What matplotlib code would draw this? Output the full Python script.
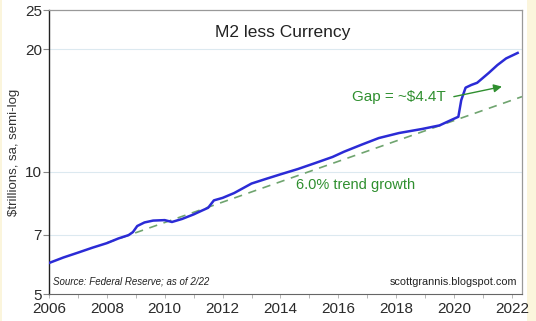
import numpy as np
import matplotlib
matplotlib.use("Agg")
import matplotlib.pyplot as plt
from matplotlib.patches import Rectangle

# M2 less currency, $ trillions
years = [2006.0, 2006.5, 2007.0, 2007.5, 2008.0, 2008.4, 2008.75, 2008.9, 2009.05,
         2009.3, 2009.6, 2010.0, 2010.25, 2010.6, 2011.0, 2011.25, 2011.5, 2011.7,
         2012.0, 2012.4, 2013.0, 2013.5, 2014.0, 2014.6, 2015.2, 2015.8, 2016.2,
         2016.8, 2017.4, 2018.1, 2018.9, 2019.5, 2019.9, 2020.15, 2020.25, 2020.4,
         2020.6, 2020.8, 2021.2, 2021.5, 2021.8, 2022.2]
m2 = [5.96, 6.15, 6.32, 6.5, 6.67, 6.85, 6.98, 7.1, 7.35,
      7.5, 7.58, 7.6, 7.52, 7.65, 7.85, 8.0, 8.15, 8.5,
      8.62, 8.86, 9.35, 9.6, 9.85, 10.15, 10.5, 10.87, 11.2,
      11.65, 12.1, 12.45, 12.74, 13.0, 13.4, 13.65, 15.0, 16.1,
      16.35, 16.55, 17.5, 18.3, 19.0, 19.6]

# 6% trend line end points
trend_years = [2008.0, 2022.35]
trend_vals = [6.68, 15.3]

yticks = [5, 7, 10, 20, 25]
xticks = list(range(2006, 2023, 2))

green = "#2f8f2f"
fnt = "Liberation Sans"

fig = plt.figure(figsize=(5.36, 3.21), dpi=100)
fig.patch.set_facecolor("white")
fig.patches.append(Rectangle((527 / 536, 0), 9 / 536, 1, transform=fig.transFigure,
                             facecolor="#fbf5dc", edgecolor="none", zorder=-1))
fig.patches.append(Rectangle((0, 0), 2 / 536, 1, transform=fig.transFigure,
                             facecolor="#fbf5dc", edgecolor="none", zorder=-1))
ax = fig.add_axes([49 / 536, 1 - 294 / 321, 473 / 536, 284 / 321])

ax.plot(trend_years, trend_vals, color="#6fa46f", lw=1.2, ls=(0, (5, 4)), zorder=2)
ax.plot(years, m2, color="#2b2bd6", lw=1.8, zorder=3)

ax.set_yscale("log")
ax.set_ylim(5, 25)
ax.set_xlim(2006, 2022.35)
ax.set_yticks(yticks)
ax.set_yticklabels([str(t) for t in yticks], fontsize=11, family=fnt, color="#2a2a2a")
ax.yaxis.set_minor_locator(matplotlib.ticker.NullLocator())
ax.set_xticks(xticks)
ax.set_xticklabels([str(t) for t in xticks], fontsize=11, family=fnt, color="#2a2a2a")
ax.set_xticks(range(2006, 2023), minor=True)
ax.tick_params(axis="y", length=4, width=0.8, color="#888888", pad=1)
ax.tick_params(axis="x", which="both", length=3, width=0.6, color="#aaaaaa", pad=3)

for v in [7, 10, 20]:
    ax.axhline(v, color="#dce9f0", lw=0.8, zorder=1)

ax.spines["left"].set_color("#222222")
ax.spines["left"].set_linewidth(1.0)
ax.spines["bottom"].set_color("#666666")
for s in ["top", "right"]:
    ax.spines[s].set_color("#999999")
    ax.spines[s].set_linewidth(0.9)

ax.set_ylabel("$trillions, sa, semi-log", fontsize=9.5, family=fnt, color="#333333")
ax.yaxis.set_label_coords(-0.062, 0.5)

ax.text(0.495, 0.92, "M2 less Currency", transform=ax.transAxes, ha="center", va="center",
        fontsize=12.5, family=fnt, color="#222222")
ax.text(2019.7, 15.3, "Gap = ~$4.4T", ha="right", va="center", fontsize=11, family=fnt, color=green)
ax.annotate("", xy=(2021.75, 16.25), xytext=(2019.9, 15.25),
            arrowprops=dict(arrowstyle="-|>", color=green, lw=1.0, mutation_scale=12))
ax.text(2014.55, 9.27, "6.0% trend growth", ha="left", va="center", fontsize=10.5, family=fnt, color=green)
ax.text(0.008, 0.025, "Source: Federal Reserve; as of 2/22", transform=ax.transAxes, ha="left",
        va="bottom", fontsize=7, style="italic", family=fnt, color="#222222")
ax.text(0.989, 0.025, "scottgrannis.blogspot.com", transform=ax.transAxes, ha="right",
        va="bottom", fontsize=7.8, family=fnt, color="#222222")

fig.savefig("out.png", dpi=100)
